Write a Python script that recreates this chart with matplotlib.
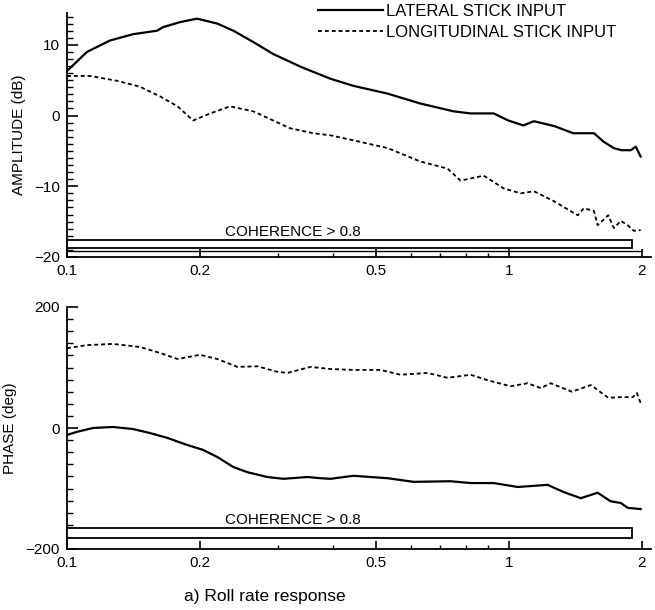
import matplotlib
matplotlib.use("Agg")
import matplotlib.pyplot as plt
from matplotlib.patches import Rectangle
from matplotlib.ticker import FixedLocator, FixedFormatter, MultipleLocator, NullFormatter
import numpy as np

plt.rcParams['font.family'] = ['Liberation Sans Narrow', 'Liberation Sans', 'DejaVu Sans']

# ---- data ----
freq_lat_amp = [0.100, 0.111, 0.125, 0.141, 0.160, 0.165, 0.180, 0.197, 0.219, 0.238, 0.264,
                0.293, 0.338, 0.395, 0.445, 0.532, 0.631, 0.750, 0.820, 0.925, 0.998, 1.08,
                1.14, 1.27, 1.40, 1.56, 1.64, 1.73, 1.80, 1.89, 1.94, 1.99]
amp_lat = [6.3, 9.0, 10.6, 11.5, 12.0, 12.5, 13.2, 13.7, 13.0, 12.0, 10.4,
           8.7, 6.9, 5.2, 4.2, 3.1, 1.7, 0.6, 0.3, 0.3, -0.7, -1.4,
           -0.8, -1.5, -2.5, -2.5, -3.7, -4.6, -4.9, -4.9, -4.4, -5.8]

freq_lon_amp = [0.100, 0.113, 0.130, 0.146, 0.1625, 0.178, 0.193, 0.211, 0.234, 0.264, 0.293,
                0.320, 0.361, 0.395, 0.445, 0.532, 0.631, 0.727, 0.778, 0.878, 0.974, 1.065,
                1.14, 1.265, 1.38, 1.434, 1.48, 1.56, 1.59, 1.68, 1.73, 1.795, 1.86, 1.92, 1.99]
amp_lon = [5.6, 5.6, 4.9, 4.1, 2.7, 1.3, -0.7, 0.3, 1.3, 0.6, -0.7,
           -1.8, -2.5, -2.8, -3.5, -4.6, -6.5, -7.5, -9.2, -8.5, -10.3, -11.0,
           -10.7, -12.1, -13.5, -14.1, -13.1, -13.5, -15.5, -14.1, -15.9, -14.9, -15.5, -16.3, -16.2]

freq_lat_ph = [0.100, 0.105, 0.1145, 0.127, 0.141, 0.154, 0.169, 0.187, 0.203, 0.219, 0.238,
               0.256, 0.284, 0.309, 0.350, 0.395, 0.375, 0.445, 0.532, 0.609, 0.739, 0.820,
               0.925, 1.048, 1.225, 1.333, 1.456, 1.59, 1.70, 1.795, 1.86, 1.99]
ph_lat = [-11.6, -6.6, 0.0, 1.7, -1.7, -8.3, -16.5, -28, -36, -48, -64.5,
          -73, -81, -84, -81, -84, -83, -79, -83, -89, -88, -91,
          -91, -97.5, -94, -106, -116, -107, -121, -124, -132, -134]

freq_lon_ph = [0.100, 0.111, 0.127, 0.146, 0.1625, 0.178, 0.200, 0.219, 0.243, 0.270, 0.299,
               0.3155, 0.3556, 0.395, 0.445, 0.513, 0.569, 0.655, 0.727, 0.820, 0.896, 1.010,
               1.104, 1.182, 1.245, 1.39, 1.535, 1.68, 1.80, 1.91, 1.95, 1.99]
ph_lon = [132, 137, 139, 134, 124, 114, 121, 114, 101, 102, 93,
          91, 101, 97.5, 96, 96, 88, 91, 83, 88, 79, 69,
          74, 66, 74, 60, 71, 50, 51, 51, 58, 41]

# fix ordering of one misplaced point
order = np.argsort(freq_lat_ph)
freq_lat_ph = list(np.array(freq_lat_ph)[order])
ph_lat = list(np.array(ph_lat)[order])

xticks = [0.1, 0.2, 0.5, 1, 2]
xticklabels = ['0.1', '0.2', '0.5', '1', '2']
amp_ticks = [-20, -10, 0, 10]
ph_ticks = [-200, 0, 200]
legend_labels = ['LATERAL STICK INPUT', 'LONGITUDINAL STICK INPUT']
coh_text = 'COHERENCE > 0.8'
caption = 'a) Roll rate response'

W, H = 655, 610
fig = plt.figure(figsize=(W / 100, H / 100), dpi=100)

def px_axes(left, top, right, bottom):
    return fig.add_axes([left / W, 1 - bottom / H, (right - left) / W, (bottom - top) / H])

ax1 = px_axes(67, 13, 651, 257)
ax2 = px_axes(67, 307, 651, 549)

dash = (0, (2.2, 1.6))
minor_x = [v * d for d in (0.1, 1) for v in range(1, 10)]
minor_x = [m for m in minor_x if 0.1 <= m <= 2.1]

for ax in (ax1, ax2):
    ax.set_xscale('log')
    ax.set_xlim(0.1, 2.1)
    ax.spines['top'].set_visible(False)
    ax.spines['right'].set_visible(False)
    ax.spines['left'].set_linewidth(1.3)
    ax.spines['bottom'].set_linewidth(1.3)
    ax.xaxis.set_major_locator(FixedLocator(xticks))
    ax.xaxis.set_major_formatter(FixedFormatter(xticklabels))
    ax.xaxis.set_minor_locator(FixedLocator(minor_x))
    ax.xaxis.set_minor_formatter(NullFormatter())
    ax.tick_params(axis='both', which='major', direction='in', length=8, width=1.2,
                   labelsize=11, pad=5)
    ax.tick_params(axis='both', which='minor', direction='in', length=4, width=1.0)
    ax.tick_params(axis='x', which='major', length=6)
    ax.tick_params(axis='x', which='minor', length=3)

# ---- amplitude ----
ax1.set_ylim(-20, 14.5)
ax1.yaxis.set_major_locator(FixedLocator(amp_ticks))
ax1.yaxis.set_minor_locator(MultipleLocator(1))
l1, = ax1.plot(freq_lat_amp, amp_lat, color='black', lw=1.6)
l2, = ax1.plot(freq_lon_amp, amp_lon, color='black', lw=1.3, ls=dash)
ax1.set_ylabel('AMPLITUDE (dB)', fontsize=11, labelpad=6)
ax1.add_patch(Rectangle((0.1, -18.7), 1.9 - 0.1, 1.1, facecolor='white',
                        edgecolor='black', lw=1.3, zorder=3, clip_on=False))
ax1.plot([0.1, 2.0], [-19.1, -19.1], color='black', lw=1.0, zorder=3)
ax1.text(0.325, -17.4, coh_text, ha='center', va='bottom', fontsize=11)

ax1.legend([l1, l2], legend_labels, loc='upper left', frameon=False,
           bbox_to_anchor=(318 / W, 1 - 4 / H), bbox_transform=fig.transFigure,
           borderpad=0, borderaxespad=0, handlelength=3.9, handletextpad=0.15,
           labelspacing=0.35, fontsize=12)

# ---- phase ----
ax2.set_ylim(-200, 200)
ax2.yaxis.set_major_locator(FixedLocator(ph_ticks))
ax2.yaxis.set_minor_locator(MultipleLocator(20))
ax2.plot(freq_lat_ph, ph_lat, color='black', lw=1.6)
ax2.plot(freq_lon_ph, ph_lon, color='black', lw=1.3, ls=dash)
ax2.set_ylabel('PHASE (deg)', fontsize=11, labelpad=6)
ax2.add_patch(Rectangle((0.1, -182), 1.9 - 0.1, 17, facecolor='white',
                        edgecolor='black', lw=1.3, zorder=3, clip_on=False))
ax2.text(0.325, -163, coh_text, ha='center', va='bottom', fontsize=11)

fig.text(265 / W, 1 - 597 / H, caption, ha='center', va='center', fontsize=12.5,
         family=['Liberation Sans', 'DejaVu Sans'])

fig.savefig('out.png', dpi=100)
